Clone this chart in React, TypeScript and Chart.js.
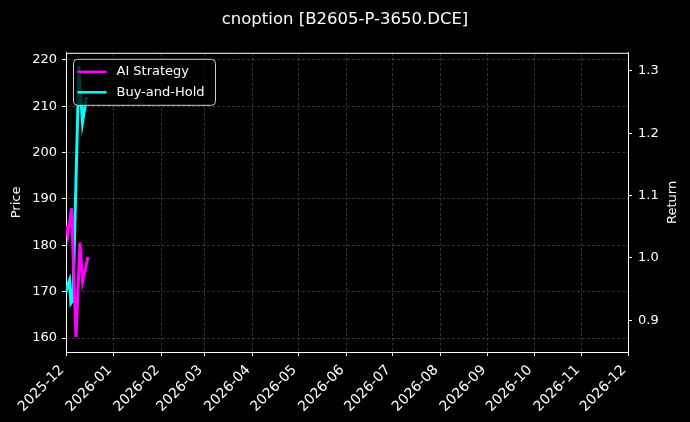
import { useEffect, useRef } from 'react'
import { Chart, registerables } from 'chart.js'

Chart.register(...registerables)

const chartTitle = 'cnoption [B2605-P-3650.DCE]'

// month ticks, as day offsets from 2025-12-01
const monthLabels = [
  '2025-12', '2026-01', '2026-02', '2026-03', '2026-04', '2026-05', '2026-06',
  '2026-07', '2026-08', '2026-09', '2026-10', '2026-11', '2026-12',
]
const monthDays = [0, 31, 62, 90, 121, 151, 182, 212, 243, 274, 304, 335, 365]

// AI Strategy (magenta)
const aiDays = [0.3, 1.2, 2.2, 3.6, 6.5, 9.1, 10.8, 14.3]
const aiPrice = [184.3, 182.2, 184.5, 188.0, 160.2, 180.6, 172.2, 177.5]

// Buy-and-Hold (cyan)
const bhDays = [0, 1.3, 2.3, 3.2, 4.5, 8.4, 10.7, 13.3]
const bhPrice = [169.9, 171.6, 172.5, 167.5, 168.2, 218.7, 206.5, 212.0]

const priceTicks = [160, 170, 180, 190, 200, 210, 220]
const returnTicks = [0.9, 1.0, 1.1, 1.2, 1.3]

const FONT = 'DejaVu Sans'
const gridColor = 'rgba(128,128,128,0.5)'

const legendItems = [
  { label: 'AI Strategy', color: '#ff00ff' },
  { label: 'Buy-and-Hold', color: '#00ffff' },
]

const framePlugin = {
  id: 'frame',
  afterDatasetsDraw(chart: any) {
    const { ctx, chartArea } = chart
    ctx.save()
    // top spine
    ctx.strokeStyle = '#ffffff'
    ctx.lineWidth = 1
    ctx.beginPath()
    ctx.moveTo(chartArea.left, chartArea.top + 0.5)
    ctx.lineTo(chartArea.right, chartArea.top + 0.5)
    ctx.stroke()

    // legend box inside the plot
    const x = chartArea.left + 7.5
    const y = chartArea.top + 6.5
    ctx.beginPath()
    ctx.roundRect(x, y, 142, 46, 4)
    ctx.fillStyle = 'rgba(0,0,0,0.8)'
    ctx.fill()
    ctx.strokeStyle = '#cccccc'
    ctx.stroke()
    ctx.font = `13px "${FONT}"`
    ctx.textBaseline = 'middle'
    legendItems.forEach((item, i) => {
      const ly = y + 12.5 + i * 20.5
      ctx.strokeStyle = item.color
      ctx.lineWidth = 2.5
      ctx.beginPath()
      ctx.moveTo(x + 4, ly)
      ctx.lineTo(x + 33, ly)
      ctx.stroke()
      ctx.fillStyle = '#ffffff'
      ctx.fillText(item.label, x + 43, ly)
    })

    // right axis label, reading bottom to top
    ctx.translate(673, (chartArea.top + chartArea.bottom) / 2)
    ctx.rotate(-Math.PI / 2)
    ctx.textAlign = 'center'
    ctx.fillText('Return', 0, 0)
    ctx.restore()
  },
}

const App = () => {
  const canvasRef = useRef<HTMLCanvasElement>(null)

  useEffect(() => {
    const chart = new Chart(canvasRef.current!, {
      type: 'line',
      data: {
        datasets: [
          {
            label: 'AI Strategy',
            data: aiDays.map((d, i) => ({ x: d, y: aiPrice[i] })),
            borderColor: '#ff00ff',
            borderWidth: 3,
            pointRadius: 0,
            yAxisID: 'y',
          },
          {
            label: 'Buy-and-Hold',
            data: bhDays.map((d, i) => ({ x: d, y: bhPrice[i] })),
            borderColor: '#00ffff',
            borderWidth: 3,
            pointRadius: 0,
            yAxisID: 'y',
          },
        ],
      },
      options: {
        animation: false,
        responsive: true,
        maintainAspectRatio: false,
        layout: { padding: 0 },
        plugins: {
          legend: { display: false },
          tooltip: { enabled: false },
          title: {
            display: true,
            text: chartTitle,
            color: '#ffffff',
            font: { family: FONT, size: 16.5, weight: 'normal' },
            padding: { top: 10, bottom: 23 },
          },
        },
        scales: {
          x: {
            type: 'linear',
            min: 0,
            max: 365,
            afterBuildTicks: (axis: any) => {
              axis.ticks = monthDays.map((v) => ({ value: v }))
            },
            afterFit: (axis: any) => {
              axis.height = 70
            },
            ticks: {
              autoSkip: false,
              color: '#ffffff',
              font: { family: FONT, size: 14 },
              minRotation: 45,
              maxRotation: 45,
              padding: 6,
              labelOffset: -4,
              callback: (v: any) => monthLabels[monthDays.indexOf(v)],
            },
            grid: {
              color: gridColor,
              lineWidth: 0.8,
              tickColor: '#ffffff',
              tickLength: 4,
              tickWidth: 1,
            },
            border: { color: '#ffffff', width: 1, dash: [3, 2] },
          },
          y: {
            type: 'linear',
            position: 'left',
            min: 157,
            max: 221.5,
            afterBuildTicks: (axis: any) => {
              axis.ticks = priceTicks.map((v) => ({ value: v }))
            },
            afterFit: (axis: any) => {
              axis.width = 66
            },
            ticks: {
              color: '#ffffff',
              font: { family: FONT, size: 13 },
              padding: 5,
            },
            grid: {
              color: gridColor,
              lineWidth: 0.8,
              tickColor: '#ffffff',
              tickLength: 4,
              tickWidth: 1,
            },
            border: { color: '#ffffff', width: 1, dash: [3, 2] },
            title: {
              display: true,
              text: 'Price',
              color: '#ffffff',
              font: { family: FONT, size: 13 },
              padding: { top: 9, bottom: 0 },
            },
          },
          y1: {
            type: 'linear',
            position: 'right',
            min: 0.849,
            max: 1.329,
            afterBuildTicks: (axis: any) => {
              axis.ticks = returnTicks.map((v) => ({ value: v }))
            },
            afterFit: (axis: any) => {
              axis.width = 62
            },
            ticks: {
              color: '#ffffff',
              font: { family: FONT, size: 13 },
              padding: 6,
              callback: (v: any) => Number(v).toFixed(1),
            },
            grid: {
              drawOnChartArea: false,
              tickColor: '#ffffff',
              tickLength: 4,
              tickWidth: 1,
            },
            border: { color: '#ffffff', width: 1 },
          },
        },
      },
      plugins: [framePlugin],
    })

    return () => chart.destroy()
  }, [])

  return (
    <div style={{ position: 'absolute', left: 0, top: 0, width: 690, height: 422, background: '#000000' }}>
      <canvas ref={canvasRef}></canvas>
    </div>
  )
}

export default App
